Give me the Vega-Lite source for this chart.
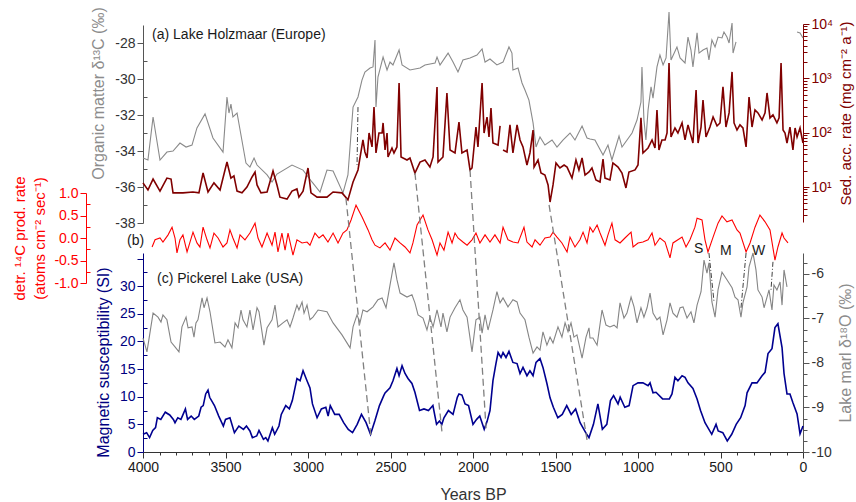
{
  "$schema": "https://vega.github.io/schema/vega-lite/v6.json",
  "width": 660,
  "height": 452,
  "autosize": {"type": "none"},
  "padding": {"left": 143, "top": 0, "right": 53, "bottom": 50},
  "background": "white",
  "config": {
    "view": {"stroke": null},
    "font": "Liberation Sans",
    "axis": {"labelFont": "Liberation Sans", "titleFont": "Liberation Sans", "labelFontSize": 14, "titleFontSize": 16, "titleFontWeight": "normal", "grid": false, "labelPadding": 2, "labelFlush": false, "labelOverlap": false}
  },
  "datasets": {
    "d13c": [
      {"year":4000,"v":-34.39,"seg":1},{"year":3970,"v":-34.5,"seg":1},{"year":3939,"v":-32.11,"seg":1},{"year":3897,"v":-34.5,"seg":1},{"year":3855,"v":-34.06,"seg":1},{"year":3818,"v":-34.0,"seg":1},{"year":3776,"v":-33.56,"seg":1},{"year":3739,"v":-33.78,"seg":1},{"year":3703,"v":-33.67,"seg":1},{"year":3673,"v":-32.72,"seg":1},{"year":3624,"v":-31.94,"seg":1},{"year":3576,"v":-33.28,"seg":1},{"year":3515,"v":-34.06,"seg":1},{"year":3491,"v":-31.0,"seg":1},{"year":3479,"v":-31.89,"seg":1},{"year":3467,"v":-31.39,"seg":1},{"year":3455,"v":-32.11,"seg":1},{"year":3430,"v":-31.89,"seg":1},{"year":3376,"v":-34.67,"seg":1},{"year":3352,"v":-34.89,"seg":1},{"year":3327,"v":-34.39,"seg":1},{"year":3309,"v":-34.78,"seg":1},{"year":3248,"v":-35.33,"seg":1},{"year":3218,"v":-35.72,"seg":1},{"year":3188,"v":-35.28,"seg":1},{"year":3097,"v":-34.78,"seg":1},{"year":3030,"v":-35.06,"seg":1},{"year":2976,"v":-35.72,"seg":1},{"year":2927,"v":-36.28,"seg":1},{"year":2885,"v":-35.06,"seg":1},{"year":2848,"v":-35.11,"seg":1},{"year":2788,"v":-36.33,"seg":1},{"year":2758,"v":-35.33,"seg":1},{"year":2727,"v":-31.56,"seg":1},{"year":2697,"v":-31.0,"seg":1},{"year":2673,"v":-30.06,"seg":1},{"year":2655,"v":-29.61,"seg":1},{"year":2624,"v":-29.39,"seg":1},{"year":2606,"v":-29.33,"seg":1},{"year":2594,"v":-27.83,"seg":1},{"year":2588,"v":-31.56,"seg":1},{"year":2576,"v":-29.89,"seg":1},{"year":2545,"v":-28.78,"seg":1},{"year":2521,"v":-29.5,"seg":1},{"year":2503,"v":-29.06,"seg":1},{"year":2485,"v":-29.22,"seg":1},{"year":2448,"v":-28.39,"seg":1},{"year":2430,"v":-29.22,"seg":1},{"year":2382,"v":-29.5,"seg":1},{"year":2321,"v":-29.39,"seg":1},{"year":2291,"v":-29.22,"seg":1},{"year":2230,"v":-29.11,"seg":1},{"year":2218,"v":-28.78,"seg":1},{"year":2200,"v":-29.22,"seg":1},{"year":2151,"v":-28.56,"seg":1},{"year":2121,"v":-29.06,"seg":1},{"year":2091,"v":-29.61,"seg":1},{"year":2061,"v":-28.94,"seg":1},{"year":2018,"v":-28.83,"seg":1},{"year":1976,"v":-28.67,"seg":1},{"year":1945,"v":-28.33,"seg":1},{"year":1927,"v":-29.06,"seg":1},{"year":1897,"v":-28.89,"seg":1},{"year":1855,"v":-29.22,"seg":1},{"year":1818,"v":-29.06,"seg":1},{"year":1782,"v":-28.22,"seg":1},{"year":1764,"v":-28.56,"seg":1},{"year":1758,"v":-29.5,"seg":1},{"year":1727,"v":-29.39,"seg":1},{"year":1703,"v":-30.22,"seg":1},{"year":1685,"v":-30.61,"seg":1},{"year":1661,"v":-31.17,"seg":1},{"year":1636,"v":-32.44,"seg":1},{"year":1618,"v":-33.78,"seg":1},{"year":1594,"v":-33.22,"seg":1},{"year":1564,"v":-33.67,"seg":1},{"year":1521,"v":-33.39,"seg":1},{"year":1491,"v":-33.78,"seg":1},{"year":1455,"v":-33.39,"seg":1},{"year":1412,"v":-33.0,"seg":1},{"year":1382,"v":-33.39,"seg":1},{"year":1339,"v":-32.61,"seg":1},{"year":1309,"v":-33.28,"seg":1},{"year":1291,"v":-33.33,"seg":1},{"year":1261,"v":-33.39,"seg":1},{"year":1212,"v":-34.22,"seg":1},{"year":1182,"v":-33.67,"seg":1},{"year":1158,"v":-34.5,"seg":1},{"year":1115,"v":-33.17,"seg":1},{"year":1097,"v":-33.78,"seg":1},{"year":1036,"v":-33.0,"seg":1},{"year":1006,"v":-32.28,"seg":1},{"year":982,"v":-31.28,"seg":1},{"year":976,"v":-29.33,"seg":1},{"year":964,"v":-32.28,"seg":1},{"year":952,"v":-33.39,"seg":1},{"year":939,"v":-31.72,"seg":1},{"year":921,"v":-30.44,"seg":1},{"year":909,"v":-31.06,"seg":1},{"year":885,"v":-29.33,"seg":1},{"year":867,"v":-28.67,"seg":1},{"year":848,"v":-29.22,"seg":1},{"year":830,"v":-28.83,"seg":1},{"year":812,"v":-26.28,"seg":1},{"year":800,"v":-28.94,"seg":1},{"year":764,"v":-28.22,"seg":1},{"year":745,"v":-28.83,"seg":1},{"year":715,"v":-29.11,"seg":1},{"year":697,"v":-27.67,"seg":1},{"year":679,"v":-28.39,"seg":1},{"year":667,"v":-29.33,"seg":1},{"year":642,"v":-27.44,"seg":1},{"year":630,"v":-28.56,"seg":1},{"year":606,"v":-28.39,"seg":1},{"year":582,"v":-28.28,"seg":1},{"year":570,"v":-28.94,"seg":1},{"year":552,"v":-27.83,"seg":1},{"year":533,"v":-28.22,"seg":1},{"year":515,"v":-27.67,"seg":1},{"year":491,"v":-27.72,"seg":1},{"year":479,"v":-27.39,"seg":1},{"year":461,"v":-27.67,"seg":1},{"year":448,"v":-28.0,"seg":1},{"year":430,"v":-26.89,"seg":1},{"year":424,"v":-28.56,"seg":1},{"year":406,"v":-27.94,"seg":1},
      {"year":36,"v":-27.39,"seg":2},{"year":18,"v":-27.44,"seg":2},{"year":0,"v":-27.72,"seg":2}
    ],
    "sed": [
      {"year":4000,"v":11.9,"seg":1},{"year":3970,"v":8.8,"seg":1},{"year":3939,"v":14.0,"seg":1},{"year":3897,"v":8.4,"seg":1},{"year":3855,"v":14.6,"seg":1},{"year":3830,"v":14.0,"seg":1},{"year":3818,"v":7.8,"seg":1},{"year":3758,"v":7.8,"seg":1},{"year":3697,"v":8.1,"seg":1},{"year":3661,"v":7.8,"seg":1},{"year":3636,"v":18.1,"seg":1},{"year":3606,"v":8.1,"seg":1},{"year":3570,"v":11.9,"seg":1},{"year":3533,"v":8.8,"seg":1},{"year":3491,"v":28.8,"seg":1},{"year":3467,"v":14.6,"seg":1},{"year":3449,"v":16.0,"seg":1},{"year":3430,"v":8.4,"seg":1},{"year":3400,"v":7.8,"seg":1},{"year":3370,"v":10.0,"seg":1},{"year":3339,"v":15.3,"seg":1},{"year":3321,"v":18.9,"seg":1},{"year":3309,"v":10.9,"seg":1},{"year":3285,"v":7.8,"seg":1},{"year":3248,"v":8.1,"seg":1},{"year":3212,"v":19.7,"seg":1},{"year":3188,"v":10.9,"seg":1},{"year":3170,"v":6.5,"seg":1},{"year":3127,"v":6.0,"seg":1},{"year":3097,"v":8.4,"seg":1},{"year":3067,"v":9.2,"seg":1},{"year":3055,"v":6.5,"seg":1},{"year":3030,"v":8.4,"seg":1},{"year":3000,"v":22.4,"seg":1},{"year":2982,"v":7.8,"seg":1},{"year":2945,"v":6.5,"seg":1},{"year":2885,"v":6.5,"seg":1},{"year":2848,"v":8.1,"seg":1},{"year":2794,"v":7.8,"seg":1},{"year":2758,"v":5.8,"seg":1},{"year":2727,"v":12.4,"seg":1},{"year":2697,"v":20.6,"seg":1},{"year":2667,"v":73.4,"seg":1},{"year":2655,"v":44.2,"seg":1},{"year":2642,"v":34.2,"seg":1},{"year":2630,"v":98.7,"seg":1},{"year":2612,"v":54.6,"seg":1},{"year":2600,"v":297,"seg":1},{"year":2588,"v":42.3,"seg":1},{"year":2570,"v":98.7,"seg":1},{"year":2551,"v":98.7,"seg":1},{"year":2545,"v":151,"seg":1},{"year":2533,"v":48.0,"seg":1},{"year":2521,"v":98.7,"seg":1},{"year":2515,"v":35.7,"seg":1},{"year":2491,"v":52.3,"seg":1},{"year":2479,"v":42.3,"seg":1},{"year":2461,"v":54.6,"seg":1},{"year":2448,"v":822,"seg":1},{"year":2436,"v":35.7,"seg":1},{"year":2400,"v":31.4,"seg":1},{"year":2382,"v":34.2,"seg":1},{"year":2352,"v":18.1,"seg":1},{"year":2321,"v":28.8,"seg":1},{"year":2291,"v":31.4,"seg":1},{"year":2261,"v":23.3,"seg":1},{"year":2242,"v":35.7,"seg":1},{"year":2218,"v":695,"seg":1},{"year":2212,"v":28.8,"seg":1},{"year":2182,"v":35.7,"seg":1},{"year":2158,"v":538,"seg":1},{"year":2139,"v":48.0,"seg":1},{"year":2109,"v":42.3,"seg":1},{"year":2085,"v":157,"seg":1},{"year":2067,"v":42.3,"seg":1},{"year":2036,"v":48.0,"seg":1},{"year":2018,"v":20.6,"seg":1},{"year":2006,"v":22.4,"seg":1},{"year":1982,"v":127,"seg":1},{"year":1970,"v":54.6,"seg":1},{"year":1945,"v":822,"seg":1},{"year":1933,"v":98.7,"seg":1},{"year":1915,"v":194,"seg":1},{"year":1903,"v":83.4,"seg":1},{"year":1891,"v":285,"seg":1},{"year":1879,"v":64.6,"seg":1},{"year":1848,"v":59.3,"seg":1},{"year":1836,"v":133,"seg":1},
      {"year":1818,"v":48.0,"seg":2},{"year":1794,"v":44.2,"seg":2},{"year":1776,"v":139,"seg":2},{"year":1758,"v":42.3,"seg":2},{"year":1733,"v":139,"seg":2},{"year":1715,"v":73.4,"seg":2},{"year":1697,"v":54.6,"seg":2},{"year":1673,"v":25.4,"seg":2},{"year":1655,"v":42.3,"seg":2},{"year":1636,"v":112,"seg":2},{"year":1630,"v":23.3,"seg":2},{"year":1606,"v":31.4,"seg":2},{"year":1588,"v":18.1,"seg":2},{"year":1564,"v":16.6,"seg":2},{"year":1545,"v":10.9,"seg":2},{"year":1533,"v":5.3,"seg":2},{"year":1515,"v":10.9,"seg":2},{"year":1497,"v":27.7,"seg":2},{"year":1473,"v":22.4,"seg":2},{"year":1448,"v":25.4,"seg":2},{"year":1430,"v":23.3,"seg":2},{"year":1400,"v":14.6,"seg":2},{"year":1376,"v":31.4,"seg":2},{"year":1358,"v":20.6,"seg":2},{"year":1339,"v":34.2,"seg":2},{"year":1321,"v":16.6,"seg":2},{"year":1297,"v":18.9,"seg":2},{"year":1279,"v":22.4,"seg":2},{"year":1255,"v":13.5,"seg":2},{"year":1230,"v":12.4,"seg":2},{"year":1212,"v":32.8,"seg":2},{"year":1200,"v":14.6,"seg":2},{"year":1170,"v":13.5,"seg":2},{"year":1152,"v":27.7,"seg":2},{"year":1121,"v":23.3,"seg":2},{"year":1097,"v":18.1,"seg":2},{"year":1073,"v":9.6,"seg":2},{"year":1055,"v":18.9,"seg":2},{"year":1018,"v":20.6,"seg":2},{"year":1000,"v":25.4,"seg":2},{"year":982,"v":187,"seg":2},{"year":970,"v":42.3,"seg":2},{"year":939,"v":52.3,"seg":2},{"year":915,"v":73.4,"seg":2},{"year":897,"v":52.3,"seg":2},{"year":885,"v":262,"seg":2},{"year":873,"v":48.0,"seg":2},{"year":855,"v":73.4,"seg":2},{"year":836,"v":73.4,"seg":2},{"year":824,"v":98.7,"seg":2},{"year":812,"v":1923,"seg":2},{"year":800,"v":83.4,"seg":2},{"year":776,"v":122,"seg":2},{"year":758,"v":98.7,"seg":2},{"year":733,"v":151,"seg":2},{"year":715,"v":73.4,"seg":2},{"year":697,"v":139,"seg":2},{"year":667,"v":64.6,"seg":2},{"year":648,"v":611,"seg":2},{"year":636,"v":64.6,"seg":2},{"year":618,"v":127,"seg":2},{"year":606,"v":400,"seg":2},{"year":588,"v":83.4,"seg":2},{"year":564,"v":127,"seg":2},{"year":545,"v":194,"seg":2},{"year":521,"v":133,"seg":2},{"year":503,"v":151,"seg":2},{"year":485,"v":695,"seg":2},{"year":467,"v":127,"seg":2},{"year":448,"v":231,"seg":2},{"year":430,"v":1312,"seg":2},{"year":418,"v":151,"seg":2},{"year":400,"v":112,"seg":2},{"year":382,"v":139,"seg":2},{"year":364,"v":122,"seg":2},{"year":345,"v":54.6,"seg":2},{"year":327,"v":454,"seg":2},{"year":309,"v":127,"seg":2},{"year":291,"v":262,"seg":2},{"year":273,"v":231,"seg":2},{"year":248,"v":171,"seg":2},{"year":230,"v":231,"seg":2},{"year":218,"v":538,"seg":2},{"year":200,"v":187,"seg":2},{"year":182,"v":212,"seg":2},{"year":158,"v":151,"seg":2},{"year":145,"v":187,"seg":2},{"year":133,"v":1923,"seg":2},{"year":121,"v":112,"seg":2},{"year":109,"v":98.7,"seg":2},{"year":97,"v":64.6,"seg":2},{"year":79,"v":127,"seg":2},{"year":61,"v":48.0,"seg":2},{"year":48,"v":122,"seg":2},{"year":36,"v":83.4,"seg":2},{"year":18,"v":122,"seg":2},{"year":0,"v":64.6,"seg":2}
    ],
    "c14": [
      {"year":3945,"v":-0.2},{"year":3927,"v":-0.04},{"year":3897,"v":0},{"year":3879,"v":-0.09},{"year":3848,"v":0.07},{"year":3824,"v":0.24},{"year":3806,"v":0},{"year":3794,"v":-0.33},{"year":3776,"v":-0.04},{"year":3758,"v":0.07},{"year":3733,"v":-0.31},{"year":3697,"v":0.13},{"year":3673,"v":-0.11},{"year":3655,"v":-0.2},{"year":3636,"v":0.24},{"year":3612,"v":-0.04},{"year":3594,"v":-0.22},{"year":3570,"v":0.11},{"year":3545,"v":0},{"year":3515,"v":-0.2},{"year":3491,"v":-0.11},{"year":3473,"v":0.18},{"year":3455,"v":0},{"year":3430,"v":-0.22},{"year":3412,"v":0.07},{"year":3382,"v":-0.04},{"year":3352,"v":0.11},{"year":3321,"v":0.33},{"year":3303,"v":0},{"year":3279,"v":-0.2},{"year":3248,"v":0.11},{"year":3218,"v":-0.16},{"year":3200,"v":0.13},{"year":3182,"v":-0.31},{"year":3158,"v":0.11},{"year":3139,"v":-0.27},{"year":3121,"v":0.11},{"year":3091,"v":-0.38},{"year":3067,"v":-0.04},{"year":3036,"v":-0.11},{"year":3006,"v":-0.09},{"year":2988,"v":-0.16},{"year":2958,"v":0.11},{"year":2933,"v":0},{"year":2909,"v":0.07},{"year":2879,"v":-0.09},{"year":2848,"v":0.11},{"year":2818,"v":-0.11},{"year":2788,"v":0.11},{"year":2764,"v":0.18},{"year":2739,"v":0.4},{"year":2709,"v":0.73},{"year":2673,"v":0.47},{"year":2636,"v":0.18},{"year":2612,"v":-0.04},{"year":2594,"v":-0.16},{"year":2564,"v":-0.22},{"year":2533,"v":-0.11},{"year":2503,"v":-0.27},{"year":2473,"v":0},{"year":2442,"v":-0.11},{"year":2412,"v":-0.2},{"year":2382,"v":-0.33},{"year":2364,"v":-0.11},{"year":2339,"v":0.29},{"year":2303,"v":0.51},{"year":2273,"v":0.18},{"year":2248,"v":-0.04},{"year":2218,"v":-0.38},{"year":2200,"v":-0.11},{"year":2176,"v":-0.27},{"year":2151,"v":0.13},{"year":2127,"v":-0.11},{"year":2109,"v":0.11},{"year":2091,"v":0},{"year":2061,"v":-0.09},{"year":2036,"v":-0.16},{"year":2006,"v":-0.04},{"year":1982,"v":0.11},{"year":1958,"v":-0.11},{"year":1927,"v":0.07},{"year":1897,"v":-0.09},{"year":1867,"v":0.07},{"year":1836,"v":-0.11},{"year":1818,"v":0.24},{"year":1788,"v":-0.04},{"year":1758,"v":-0.09},{"year":1727,"v":-0.11},{"year":1691,"v":0.24},{"year":1673,"v":-0.09},{"year":1642,"v":-0.2},{"year":1624,"v":-0.04},{"year":1594,"v":-0.16},{"year":1564,"v":0},{"year":1533,"v":0.02},{"year":1515,"v":0.13},{"year":1491,"v":0.02},{"year":1461,"v":-0.11},{"year":1430,"v":-0.31},{"year":1412,"v":0.02},{"year":1382,"v":-0.2},{"year":1352,"v":-0.04},{"year":1333,"v":0.13},{"year":1309,"v":-0.11},{"year":1291,"v":0.24},{"year":1273,"v":0.13},{"year":1248,"v":0.29},{"year":1230,"v":0.11},{"year":1200,"v":-0.16},{"year":1182,"v":0.07},{"year":1158,"v":0.33},{"year":1139,"v":-0.04},{"year":1109,"v":-0.11},{"year":1079,"v":0},{"year":1042,"v":0.13},{"year":1030,"v":-0.2},{"year":1000,"v":-0.11},{"year":970,"v":-0.09},{"year":939,"v":-0.04},{"year":915,"v":0.11},{"year":897,"v":-0.16},{"year":867,"v":0},{"year":836,"v":-0.09},{"year":806,"v":-0.44},{"year":788,"v":-0.11},{"year":758,"v":-0.04},{"year":733,"v":0.02},{"year":709,"v":-0.2},{"year":685,"v":-0.04},{"year":655,"v":0.24},{"year":642,"v":0.44},{"year":612,"v":0.4},{"year":594,"v":-0.04},{"year":576,"v":-0.31},{"year":545,"v":0.02},{"year":515,"v":0.33},{"year":491,"v":0.49},{"year":461,"v":0.36},{"year":430,"v":0.4},{"year":400,"v":0.18},{"year":382,"v":0.11},{"year":345,"v":-0.31},{"year":321,"v":-0.11},{"year":291,"v":0.24},{"year":261,"v":0.51},{"year":230,"v":0.36},{"year":200,"v":0.18},{"year":170,"v":-0.49},{"year":152,"v":-0.2},{"year":127,"v":0.11},{"year":115,"v":0},{"year":91,"v":-0.11}
    ],
    "d18o": [
      {"year":4000,"v":-7.44},{"year":3976,"v":-7.75},{"year":3939,"v":-6.88},{"year":3909,"v":-6.97},{"year":3891,"v":-7.08},{"year":3879,"v":-6.92},{"year":3855,"v":-7.03},{"year":3830,"v":-7.53},{"year":3806,"v":-7.64},{"year":3782,"v":-7.75},{"year":3764,"v":-7.19},{"year":3739,"v":-6.97},{"year":3727,"v":-7.21},{"year":3703,"v":-7.19},{"year":3691,"v":-7.42},{"year":3679,"v":-7.1},{"year":3667,"v":-7.03},{"year":3642,"v":-6.54},{"year":3630,"v":-6.76},{"year":3612,"v":-6.54},{"year":3594,"v":-6.85},{"year":3564,"v":-7.55},{"year":3533,"v":-7.53},{"year":3503,"v":-7.64},{"year":3485,"v":-7.48},{"year":3461,"v":-7.66},{"year":3442,"v":-7.1},{"year":3424,"v":-7.21},{"year":3406,"v":-6.81},{"year":3394,"v":-7.03},{"year":3370,"v":-7.19},{"year":3352,"v":-6.81},{"year":3333,"v":-7.26},{"year":3309,"v":-6.76},{"year":3297,"v":-6.85},{"year":3267,"v":-7.6},{"year":3248,"v":-7.21},{"year":3218,"v":-7.03},{"year":3200,"v":-6.7},{"year":3182,"v":-7.19},{"year":3152,"v":-7.1},{"year":3127,"v":-7.03},{"year":3109,"v":-7.19},{"year":3091,"v":-6.99},{"year":3067,"v":-6.7},{"year":3055,"v":-6.81},{"year":3036,"v":-6.63},{"year":3024,"v":-6.88},{"year":3006,"v":-6.7},{"year":2988,"v":-7.03},{"year":2970,"v":-6.97},{"year":2939,"v":-6.81},{"year":2885,"v":-6.85},{"year":2848,"v":-7.1},{"year":2794,"v":-7.37},{"year":2745,"v":-7.66},{"year":2727,"v":-7.19},{"year":2703,"v":-6.92},{"year":2685,"v":-7.1},{"year":2667,"v":-6.81},{"year":2642,"v":-6.85},{"year":2606,"v":-6.74},{"year":2576,"v":-6.58},{"year":2551,"v":-6.54},{"year":2527,"v":-6.76},{"year":2503,"v":-6.25},{"year":2479,"v":-5.75},{"year":2461,"v":-6.13},{"year":2442,"v":-6.43},{"year":2400,"v":-6.52},{"year":2370,"v":-6.47},{"year":2352,"v":-6.65},{"year":2333,"v":-6.92},{"year":2303,"v":-6.99},{"year":2279,"v":-7.26},{"year":2261,"v":-6.97},{"year":2242,"v":-7.19},{"year":2218,"v":-6.81},{"year":2194,"v":-7.19},{"year":2182,"v":-6.88},{"year":2158,"v":-7.3},{"year":2139,"v":-6.97},{"year":2109,"v":-6.76},{"year":2079,"v":-6.58},{"year":2061,"v":-6.81},{"year":2036,"v":-6.97},{"year":2006,"v":-7.75},{"year":1982,"v":-7.03},{"year":1958,"v":-6.97},{"year":1945,"v":-7.33},{"year":1927,"v":-6.92},{"year":1909,"v":-7.26},{"year":1879,"v":-6.81},{"year":1855,"v":-6.4},{"year":1836,"v":-6.65},{"year":1818,"v":-6.54},{"year":1788,"v":-6.74},{"year":1758,"v":-6.58},{"year":1733,"v":-6.63},{"year":1715,"v":-6.88},{"year":1685,"v":-7.03},{"year":1661,"v":-7.42},{"year":1636,"v":-7.78},{"year":1612,"v":-7.64},{"year":1594,"v":-7.71},{"year":1576,"v":-7.3},{"year":1552,"v":-7.6},{"year":1533,"v":-7.42},{"year":1515,"v":-7.55},{"year":1485,"v":-7.19},{"year":1461,"v":-7.42},{"year":1442,"v":-7.1},{"year":1424,"v":-7.3},{"year":1406,"v":-7.1},{"year":1388,"v":-7.42},{"year":1370,"v":-7.37},{"year":1339,"v":-7.89},{"year":1315,"v":-7.42},{"year":1297,"v":-7.21},{"year":1291,"v":-7.44},{"year":1273,"v":-7.44},{"year":1248,"v":-7.6},{"year":1218,"v":-6.81},{"year":1194,"v":-7.15},{"year":1170,"v":-7.19},{"year":1145,"v":-7.15},{"year":1127,"v":-7.21},{"year":1109,"v":-6.65},{"year":1085,"v":-6.99},{"year":1067,"v":-6.88},{"year":1042,"v":-6.52},{"year":1024,"v":-6.74},{"year":1006,"v":-7.1},{"year":982,"v":-6.76},{"year":964,"v":-6.97},{"year":945,"v":-6.76},{"year":927,"v":-6.43},{"year":909,"v":-6.88},{"year":885,"v":-7.03},{"year":867,"v":-6.97},{"year":848,"v":-7.37},{"year":824,"v":-7.03},{"year":806,"v":-6.65},{"year":788,"v":-6.88},{"year":764,"v":-6.97},{"year":745,"v":-6.76},{"year":727,"v":-6.74},{"year":703,"v":-6.99},{"year":679,"v":-6.85},{"year":661,"v":-7.1},{"year":642,"v":-6.7},{"year":618,"v":-6.4},{"year":600,"v":-5.69},{"year":582,"v":-5.98},{"year":570,"v":-5.75},{"year":552,"v":-6.63},{"year":533,"v":-6.97},{"year":515,"v":-6.36},{"year":491,"v":-5.96},{"year":461,"v":-6.13},{"year":430,"v":-6.31},{"year":412,"v":-6.52},{"year":394,"v":-6.58},{"year":376,"v":-6.97},{"year":364,"v":-6.65},{"year":339,"v":-6.29},{"year":327,"v":-5.84},{"year":303,"v":-5.53},{"year":285,"v":-5.91},{"year":273,"v":-6.36},{"year":248,"v":-6.52},{"year":236,"v":-6.76},{"year":218,"v":-6.52},{"year":206,"v":-6.36},{"year":188,"v":-6.81},{"year":176,"v":-6.25},{"year":158,"v":-6.36},{"year":139,"v":-6.18},{"year":127,"v":-6.7},{"year":115,"v":-5.91},{"year":97,"v":-6.29}
    ],
    "mag": [
      {"year":4000,"v":3.2},{"year":3978,"v":3.5},{"year":3960,"v":2.6},{"year":3941,"v":3.9},{"year":3924,"v":4.4},{"year":3913,"v":6.2},{"year":3892,"v":5.9},{"year":3865,"v":7.2},{"year":3838,"v":6.7},{"year":3816,"v":5.9},{"year":3806,"v":5.3},{"year":3789,"v":6.2},{"year":3770,"v":5.9},{"year":3757,"v":6.8},{"year":3743,"v":7.8},{"year":3730,"v":5.9},{"year":3708,"v":6.5},{"year":3689,"v":5.9},{"year":3662,"v":6.5},{"year":3648,"v":8.1},{"year":3635,"v":8.4},{"year":3620,"v":10.5},{"year":3606,"v":11.2},{"year":3596,"v":9.9},{"year":3567,"v":8.4},{"year":3541,"v":6.5},{"year":3513,"v":4.7},{"year":3500,"v":5.9},{"year":3473,"v":6.2},{"year":3446,"v":3.5},{"year":3419,"v":4.7},{"year":3391,"v":4.1},{"year":3373,"v":4.7},{"year":3352,"v":3.8},{"year":3337,"v":2.6},{"year":3311,"v":2.9},{"year":3297,"v":3.9},{"year":3270,"v":2.3},{"year":3256,"v":2.6},{"year":3243,"v":2.0},{"year":3216,"v":4.4},{"year":3202,"v":3.2},{"year":3176,"v":4.7},{"year":3162,"v":6.8},{"year":3135,"v":8.4},{"year":3113,"v":7.8},{"year":3095,"v":9.3},{"year":3067,"v":13.3},{"year":3048,"v":12.9},{"year":3030,"v":14.7},{"year":3006,"v":12.9},{"year":2988,"v":11.6},{"year":2973,"v":8.7},{"year":2945,"v":6.2},{"year":2919,"v":7.8},{"year":2892,"v":8.1},{"year":2878,"v":6.5},{"year":2865,"v":8.4},{"year":2838,"v":6.8},{"year":2811,"v":6.8},{"year":2784,"v":5.3},{"year":2756,"v":4.1},{"year":2730,"v":3.5},{"year":2702,"v":5.0},{"year":2676,"v":6.8},{"year":2648,"v":5.3},{"year":2621,"v":3.2},{"year":2595,"v":5.6},{"year":2567,"v":8.4},{"year":2541,"v":10.2},{"year":2533,"v":10.7},{"year":2503,"v":11.6},{"year":2485,"v":12.9},{"year":2461,"v":15.1},{"year":2448,"v":13.8},{"year":2430,"v":15.6},{"year":2412,"v":14.2},{"year":2394,"v":13.3},{"year":2370,"v":12.4},{"year":2352,"v":10.8},{"year":2324,"v":7.5},{"year":2297,"v":7.8},{"year":2270,"v":7.5},{"year":2243,"v":8.4},{"year":2221,"v":5.0},{"year":2203,"v":5.6},{"year":2189,"v":5.0},{"year":2176,"v":6.2},{"year":2149,"v":7.5},{"year":2121,"v":6.8},{"year":2095,"v":9.9},{"year":2085,"v":10.5},{"year":2067,"v":10.3},{"year":2048,"v":8.7},{"year":2027,"v":8.4},{"year":2000,"v":5.0},{"year":1978,"v":5.9},{"year":1959,"v":6.5},{"year":1932,"v":4.1},{"year":1915,"v":5.5},{"year":1897,"v":7.5},{"year":1879,"v":12.9},{"year":1861,"v":16.0},{"year":1848,"v":18.0},{"year":1830,"v":17.1},{"year":1818,"v":18.0},{"year":1800,"v":17.1},{"year":1782,"v":18.2},{"year":1758,"v":16.2},{"year":1733,"v":16.0},{"year":1715,"v":14.2},{"year":1697,"v":15.3},{"year":1673,"v":13.8},{"year":1655,"v":14.7},{"year":1636,"v":13.8},{"year":1618,"v":16.2},{"year":1594,"v":16.9},{"year":1576,"v":15.3},{"year":1552,"v":12.4},{"year":1533,"v":9.8},{"year":1513,"v":8.1},{"year":1486,"v":6.2},{"year":1459,"v":6.8},{"year":1432,"v":8.4},{"year":1405,"v":6.8},{"year":1378,"v":7.8},{"year":1351,"v":5.3},{"year":1311,"v":3.2},{"year":1297,"v":2.6},{"year":1270,"v":5.0},{"year":1243,"v":8.7},{"year":1216,"v":4.1},{"year":1189,"v":5.0},{"year":1167,"v":9.3},{"year":1148,"v":10.2},{"year":1121,"v":8.7},{"year":1108,"v":9.9},{"year":1080,"v":8.1},{"year":1054,"v":8.4},{"year":1030,"v":12.0},{"year":1000,"v":12.5},{"year":970,"v":12.5},{"year":939,"v":12.0},{"year":927,"v":12.5},{"year":909,"v":10.7},{"year":891,"v":10.8},{"year":851,"v":9.6},{"year":810,"v":9.6},{"year":794,"v":10.5},{"year":776,"v":13.5},{"year":758,"v":12.9},{"year":733,"v":13.8},{"year":715,"v":13.5},{"year":697,"v":12.5},{"year":667,"v":11.5},{"year":642,"v":9.6},{"year":621,"v":7.5},{"year":594,"v":5.3},{"year":553,"v":3.2},{"year":527,"v":5.0},{"year":514,"v":3.8},{"year":486,"v":3.5},{"year":459,"v":2.0},{"year":432,"v":3.2},{"year":405,"v":5.0},{"year":378,"v":6.2},{"year":351,"v":8.4},{"year":339,"v":10.7},{"year":309,"v":12.5},{"year":279,"v":12.5},{"year":248,"v":13.8},{"year":230,"v":14.4},{"year":212,"v":17.8},{"year":188,"v":18.7},{"year":170,"v":22.5},{"year":152,"v":23.2},{"year":127,"v":18.9},{"year":115,"v":14.2},{"year":97,"v":10.5},{"year":79,"v":10.5},{"year":61,"v":8.9},{"year":36,"v":6.9},{"year":18,"v":3.3},{"year":0,"v":4.7}
    ],
    "dashed": [
      {"year":2770,"pos":45.9,"year2":2618,"pos2":2.7},
      {"year":2352,"pos":50.5,"year2":2188,"pos2":3.6},
      {"year":2018,"pos":51.0,"year2":1921,"pos2":4.3},
      {"year":1539,"pos":44.7,"year2":1309,"pos2":2.2}
    ],
    "dashdot": [
      {"year":2697,"pos":62.4,"year2":2703,"pos2":51.6},
      {"year":570,"pos":36.0,"year2":539,"pos2":27.1},
      {"year":345,"pos":36.0,"year2":376,"pos2":26.0},
      {"year":182,"pos":34.4,"year2":194,"pos2":29.3}
    ],
    "notes": [
      {"label":"(a) Lake Holzmaar (Europe)","year":3945,"pos":75.4},
      {"label":"(b)","year":4097,"pos":38.2},
      {"label":"(c) Pickerel Lake (USA)","year":3915,"pos":31.3},
      {"label":"S","year":660,"pos":36.7},
      {"label":"M","year":503,"pos":36.4},
      {"label":"W","year":309,"pos":36.4}
    ]
  },
  "layer": [
    {
      "data": {"name": "d13c"},
      "mark": {"type": "line", "color": "#8a8a8a", "strokeWidth": 1.1},
      "encoding": {
        "x": {"field": "year", "type": "quantitative", "scale": {"domain": [0, 4000], "reverse": true, "nice": false, "zero": false}, "axis": null},
        "y": {"field": "v", "type": "quantitative", "scale": {"domain": [-38, -27], "range": [223, 25], "nice": false, "zero": false},
          "axis": {"orient": "left", "values": [-38,-37,-36,-35,-34,-33,-32,-31,-30,-29,-28],
            "labelExpr": "datum.value % 2 == 0 ? '' + datum.value : ''",
            "tickSize": {"condition": {"test": "datum.value % 2 == 0", "value": 6}, "value": -4},
            "domainColor": "#555555", "tickColor": "#555555", "labelColor": "#333333",
            "title": "Organic matter δ¹³C (‰)", "titleColor": "#8c8c8c", "titlePadding": 8, "titleY": 93}},
        "detail": {"field": "seg", "type": "nominal"}
      }
    },
    {
      "data": {"name": "sed"},
      "mark": {"type": "line", "color": "#800000", "strokeWidth": 1.6},
      "encoding": {
        "x": {"field": "year", "type": "quantitative", "scale": {"domain": [0, 4000], "reverse": true, "nice": false, "zero": false}, "axis": null},
        "y": {"field": "v", "type": "quantitative", "scale": {"type": "log", "domain": [2.27, 10000], "range": [222, 24], "nice": false},
          "axis": {"orient": "right", "values": [3,4,5,6,7,8,9,10,20,30,40,50,60,70,80,90,100,200,300,400,500,600,700,800,900,1000,2000,3000,4000,5000,6000,7000,8000,9000,10000],
            "labelExpr": "datum.value == 10 ? '10¹' : datum.value == 100 ? '10²' : datum.value == 1000 ? '10³' : datum.value == 10000 ? '10⁴' : ''",
            "tickSize": {"condition": {"test": "datum.value == 10 || datum.value == 100 || datum.value == 1000 || datum.value == 10000", "value": 6}, "value": 4},
            "domainColor": "#800000", "tickColor": "#800000", "labelColor": "#800000",
            "title": "Sed. acc. rate (mg cm⁻² a⁻¹)", "titleColor": "#800000", "titleFontSize": 15, "titleAngle": 270, "titleBaseline": "top", "titlePadding": 6, "titleY": 113}},
        "detail": {"field": "seg", "type": "nominal"}
      }
    },
    {
      "data": {"name": "c14"},
      "mark": {"type": "line", "color": "#ff0000", "strokeWidth": 1.1},
      "encoding": {
        "x": {"field": "year", "type": "quantitative", "scale": {"domain": [0, 4000], "reverse": true, "nice": false, "zero": false}, "axis": null},
        "y": {"field": "v", "type": "quantitative", "scale": {"domain": [-1, 1], "range": [283, 193], "nice": false, "zero": false},
          "axis": {"orient": "left", "offset": 57, "values": [-1,-0.75,-0.5,-0.25,0,0.25,0.5,0.75,1],
            "labelExpr": "datum.value * 2 == round(datum.value * 2) ? (datum.value < 0 ? '-' : '') + format(abs(datum.value), '.1f') : ''",
            "tickSize": {"condition": {"test": "datum.value * 2 == round(datum.value * 2)", "value": 6}, "value": -4},
            "domainColor": "#ff0000", "tickColor": "#ff0000", "labelColor": "#ff0000",
            "title": ["detr. ¹⁴C prod. rate", "(atoms cm⁻² sec⁻¹)"], "titleColor": "#ff0000", "titleFontSize": 15, "titleLineHeight": 20, "titlePadding": 6}}
      }
    },
    {
      "data": {"name": "d18o"},
      "mark": {"type": "line", "color": "#858585", "strokeWidth": 1.1},
      "encoding": {
        "x": {"field": "year", "type": "quantitative", "scale": {"domain": [0, 4000], "reverse": true, "nice": false, "zero": false}, "axis": null},
        "y": {"field": "v", "type": "quantitative", "scale": {"domain": [-10, -5.53], "range": [452, 253], "nice": false, "zero": false},
          "axis": {"orient": "right", "values": [-10,-9.75,-9.5,-9.25,-9,-8.75,-8.5,-8.25,-8,-7.75,-7.5,-7.25,-7,-6.75,-6.5,-6.25,-6,-5.75],
            "labelExpr": "datum.value == round(datum.value) ? '' + datum.value : ''",
            "tickSize": {"condition": {"test": "datum.value == round(datum.value)", "value": 6}, "value": 4},
            "domainColor": "#555555", "tickColor": "#555555", "labelColor": "#333333",
            "title": "Lake marl δ¹⁸O (‰)", "titleColor": "#8c8c8c", "titleAngle": 270, "titleBaseline": "top", "titlePadding": 6}}
      }
    },
    {
      "data": {"name": "mag"},
      "mark": {"type": "line", "color": "#000090", "strokeWidth": 1.6},
      "encoding": {
        "x": {"field": "year", "type": "quantitative", "scale": {"domain": [0, 4000], "reverse": true, "nice": false, "zero": false},
          "axis": {"orient": "bottom", "values": [0,100,200,300,400,500,600,700,800,900,1000,1100,1200,1300,1400,1500,1600,1700,1800,1900,2000,2100,2200,2300,2400,2500,2600,2700,2800,2900,3000,3100,3200,3300,3400,3500,3600,3700,3800,3900,4000],
            "labelExpr": "datum.value % 500 == 0 ? '' + datum.value : ''",
            "tickSize": {"condition": {"test": "datum.value % 500 == 0", "value": 6}, "value": 3},
            "domainColor": "#333333", "tickColor": "#333333", "labelColor": "#1a1a1a",
            "title": "Years BP", "titleColor": "#333333", "titlePadding": 12}},
        "y": {"field": "v", "type": "quantitative", "scale": {"domain": [0, 36], "range": [452, 253], "nice": false, "zero": false},
          "axis": {"orient": "left", "values": [0,2.5,5,7.5,10,12.5,15,17.5,20,22.5,25,27.5,30,32.5,35],
            "labelExpr": "datum.value % 5 == 0 && datum.value <= 30 ? '' + datum.value : ''",
            "tickSize": {"condition": {"test": "datum.value % 5 == 0", "value": 6}, "value": -4},
            "domainColor": "#000080", "tickColor": "#000080", "labelColor": "#000080",
            "title": "Magnetic susceptibility (SI)", "titleColor": "#000080", "titlePadding": 8, "titleY": 362}}
      }
    },
    {
      "data": {"name": "dashed"},
      "mark": {"type": "rule", "color": "#808080", "strokeWidth": 1.3, "strokeDash": [7, 4]},
      "encoding": {
        "x": {"field": "year", "type": "quantitative", "scale": {"domain": [0, 4000], "reverse": true, "nice": false, "zero": false}, "axis": null},
        "x2": {"field": "year2"},
        "y": {"field": "pos", "type": "quantitative", "scale": {"domain": [0, 36], "range": [452, 253], "nice": false, "zero": false}, "axis": null},
        "y2": {"field": "pos2"}
      }
    },
    {
      "data": {"name": "dashdot"},
      "mark": {"type": "rule", "color": "#404040", "strokeWidth": 1, "strokeDash": [5, 2, 1, 2]},
      "encoding": {
        "x": {"field": "year", "type": "quantitative", "scale": {"domain": [0, 4000], "reverse": true, "nice": false, "zero": false}, "axis": null},
        "x2": {"field": "year2"},
        "y": {"field": "pos", "type": "quantitative", "scale": {"domain": [0, 36], "range": [452, 253], "nice": false, "zero": false}, "axis": null},
        "y2": {"field": "pos2"}
      }
    },
    {
      "data": {"name": "notes"},
      "mark": {"type": "text", "align": "left", "baseline": "middle", "fontSize": 14, "font": "Liberation Sans", "color": "#1a1a1a"},
      "encoding": {
        "x": {"field": "year", "type": "quantitative", "scale": {"domain": [0, 4000], "reverse": true, "nice": false, "zero": false}, "axis": null},
        "y": {"field": "pos", "type": "quantitative", "scale": {"domain": [0, 36], "range": [452, 253], "nice": false, "zero": false}, "axis": null},
        "text": {"field": "label", "type": "nominal"}
      }
    }
  ],
  "resolve": {"scale": {"x": "independent", "y": "independent"}}
}
